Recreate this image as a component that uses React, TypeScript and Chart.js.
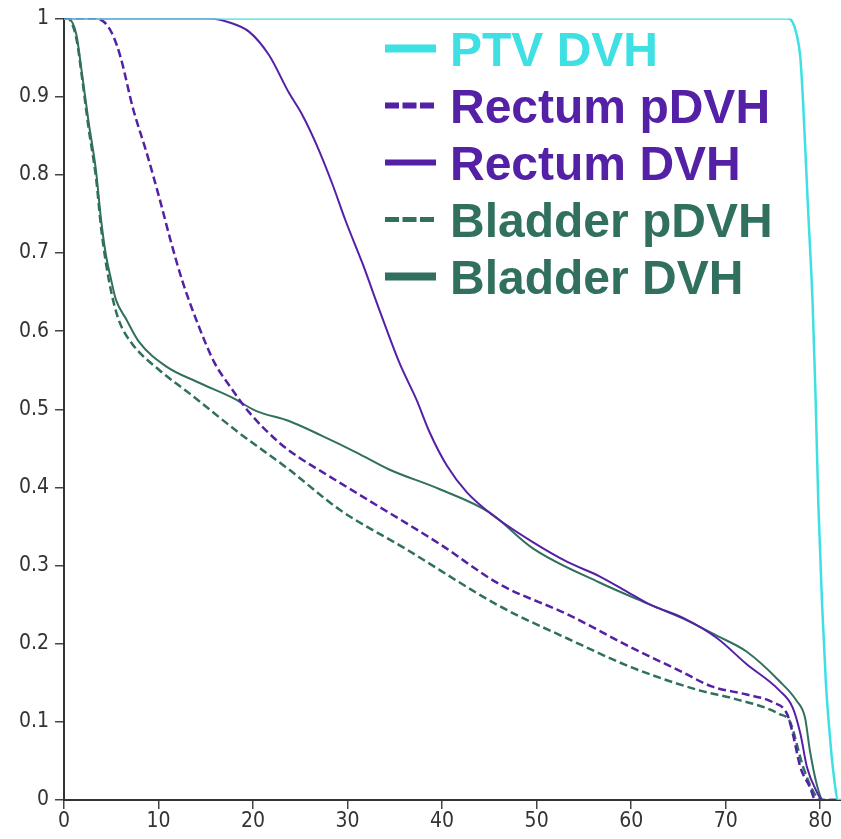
import React, { useEffect, useRef } from 'react';
import { Chart, registerables } from 'chart.js';

Chart.register(...registerables);

// Axis ticks
const xTickValues = [0, 10, 20, 30, 40, 50, 60, 70, 80];
const xTickLabels = ['0', '10', '20', '30', '40', '50', '60', '70', '80'];
const yTickValues = [0, 0.1, 0.2, 0.3, 0.4, 0.5, 0.6, 0.7, 0.8, 0.9, 1];
const yTickLabels = ['0', '0.1', '0.2', '0.3', '0.4', '0.5', '0.6', '0.7', '0.8', '0.9', '1'];

const seriesLabels = ['PTV DVH', 'Rectum pDVH', 'Rectum DVH', 'Bladder pDVH', 'Bladder DVH'];

// PTV DVH (dose in Gy, fractional volume)
const ptvDose = [0, 76.6, 77.1, 77.5, 77.9, 78.2, 78.7, 79.2, 79.5, 79.8, 80.2, 80.6, 81.0, 81.4, 81.9, 82.2];
const ptvVolume = [1, 1, 0.995, 0.98, 0.95, 0.89, 0.76, 0.635, 0.52, 0.38, 0.25, 0.15, 0.085, 0.035, 0, 0];

// Rectum probabilistic DVH
const rectumPdvhDose = [0, 3.0, 4.3, 5.2, 6.0, 7.3, 8.7, 10.1, 11.3, 12.5, 14.2, 15.9, 17.4, 19.6, 22.8, 24.9, 27.3, 32.3, 39.7, 46.1, 53.2, 60.2, 65.2, 68.6, 72.2, 75.0, 76.5, 77.1, 77.9, 78.9, 79.5, 82.2];
const rectumPdvhVolume = [1, 1, 0.995, 0.978, 0.95, 0.885, 0.83, 0.77, 0.715, 0.665, 0.608, 0.56, 0.532, 0.496, 0.457, 0.438, 0.42, 0.383, 0.328, 0.276, 0.238, 0.194, 0.165, 0.145, 0.135, 0.125, 0.11, 0.085, 0.042, 0.017, 0, 0];

// Rectum DVH
const rectumDvhDose = [0, 15.4, 17.5, 19.6, 21.7, 23.8, 25.2, 26.7, 28.4, 29.8, 31.6, 33.4, 35.5, 37.3, 38.7, 40.5, 42.6, 45.3, 49.6, 53.2, 56.7, 59.5, 62.0, 65.5, 69.1, 72.2, 75.7, 77.1, 77.9, 78.6, 79.7, 80.2, 82.2];
const rectumDvhVolume = [1, 1, 0.995, 0.983, 0.953, 0.905, 0.877, 0.839, 0.788, 0.741, 0.686, 0.626, 0.559, 0.512, 0.47, 0.428, 0.394, 0.365, 0.33, 0.305, 0.286, 0.267, 0.25, 0.233, 0.207, 0.174, 0.14, 0.118, 0.085, 0.042, 0.009, 0, 0];

// Bladder probabilistic DVH
const bladderPdvhDose = [0, 0.4, 1.3, 1.9, 2.6, 3.4, 3.9, 4.4, 5.0, 5.8, 7.2, 10.1, 13.2, 18.5, 23.8, 29.1, 36.2, 46.1, 53.2, 60.2, 67.3, 70.8, 75.7, 76.8, 78.2, 79.3, 80.0, 82.2];
const bladderPdvhVolume = [1, 1, 0.975, 0.925, 0.86, 0.795, 0.735, 0.69, 0.65, 0.614, 0.584, 0.55, 0.521, 0.47, 0.423, 0.372, 0.321, 0.248, 0.207, 0.169, 0.14, 0.13, 0.11, 0.1, 0.042, 0.01, 0, 0];

// Bladder DVH
const bladderDvhDose = [0, 0.4, 1.3, 1.9, 2.6, 3.4, 3.9, 4.4, 5.0, 5.5, 6.6, 7.9, 10.8, 14.3, 17.8, 20.3, 23.8, 27.3, 30.9, 34.4, 39.7, 45.0, 49.6, 56.7, 62.0, 65.5, 69.1, 72.2, 75.7, 77.5, 78.4, 78.9, 79.7, 80.3, 82.2];
const bladderDvhVolume = [1, 1, 0.98, 0.93, 0.868, 0.804, 0.745, 0.7, 0.665, 0.64, 0.615, 0.587, 0.555, 0.534, 0.515, 0.498, 0.485, 0.466, 0.445, 0.423, 0.398, 0.368, 0.322, 0.278, 0.25, 0.232, 0.21, 0.19, 0.152, 0.127, 0.105, 0.064, 0.017, 0, 0];

const PTV_COLOR = '#3EE0E4';
const RECTUM_COLOR = '#5421A6';
const BLADDER_COLOR = '#31705F';

const TICK_FONT = "'Liberation Sans Narrow', 'DejaVu Sans Condensed', 'DejaVu Sans', sans-serif";
const LEGEND_FONT = "bold 48px 'Liberation Sans', Arial, sans-serif";

// legend sample stroke widths, in dataset order
const legendStrokeWidths = [8, 6, 6, 5, 8];

const toPoints = (dose: number[], volume: number[]) =>
  dose.map((d, i) => ({ x: d, y: volume[i] }));

const dvhLegend = {
  id: 'dvhLegend',
  afterDraw(chart: any) {
    const { ctx, chartArea } = chart;
    const left = chartArea.left;
    ctx.save();
    ctx.font = LEGEND_FONT;
    ctx.textAlign = 'left';
    ctx.textBaseline = 'alphabetic';
    chart.data.datasets.forEach((ds: any, i: number) => {
      const baseline = chartArea.top + 47 + i * 57;
      const sampleY = baseline - 17;
      ctx.strokeStyle = ds.borderColor;
      ctx.lineWidth = legendStrokeWidths[i];
      ctx.lineCap = 'butt';
      ctx.setLineDash(ds.borderDash && ds.borderDash.length ? [14, 3.5] : []);
      ctx.beginPath();
      ctx.moveTo(left + 321, sampleY);
      ctx.lineTo(left + 372, sampleY);
      ctx.stroke();
      ctx.setLineDash([]);
      ctx.fillStyle = ds.borderColor;
      ctx.fillText(ds.label, left + 386, baseline);
    });
    ctx.restore();
  },
};

export default function App() {
  const canvasRef = useRef<HTMLCanvasElement | null>(null);

  useEffect(() => {
    const canvas = canvasRef.current;
    if (!canvas) return;

    const line = (label: string, color: string, points: any[], dashed: boolean, width: number) => ({
      label,
      data: points,
      borderColor: color,
      backgroundColor: color,
      borderWidth: width,
      borderDash: dashed ? [8, 4] : [],
      pointRadius: 0,
      fill: false,
      cubicInterpolationMode: 'monotone' as const,
    });

    // condensed face for the tick labels
    const tickFont = { family: TICK_FONT, size: 21, weight: 'condensed' as any };

    const chart = new Chart(canvas, {
      type: 'line',
      data: {
        datasets: [
          line(seriesLabels[0], PTV_COLOR, toPoints(ptvDose, ptvVolume), false, 2.5),
          line(seriesLabels[1], RECTUM_COLOR, toPoints(rectumPdvhDose, rectumPdvhVolume), true, 2.5),
          line(seriesLabels[2], RECTUM_COLOR, toPoints(rectumDvhDose, rectumDvhVolume), false, 2),
          line(seriesLabels[3], BLADDER_COLOR, toPoints(bladderPdvhDose, bladderPdvhVolume), true, 2.5),
          line(seriesLabels[4], BLADDER_COLOR, toPoints(bladderDvhDose, bladderDvhVolume), false, 2),
        ],
      },
      options: {
        responsive: false,
        animation: false,
        layout: { padding: { top: 13, right: 0, left: 0, bottom: 0 } },
        plugins: {
          legend: { display: false },
          tooltip: { enabled: false },
        },
        scales: {
          x: {
            type: 'linear',
            min: 0,
            max: 82.2,
            afterBuildTicks: (scale: any) => {
              scale.ticks = xTickValues.map((v) => ({ value: v }));
            },
            afterFit: (scale: any) => {
              scale.height = 39;
            },
            ticks: {
              autoSkip: false,
              maxRotation: 0,
              padding: 0,
              color: '#333',
              font: tickFont,
              callback: (value: any) => {
                const idx = xTickValues.indexOf(Number(value));
                return idx >= 0 ? xTickLabels[idx] : '';
              },
            },
            grid: {
              drawOnChartArea: false,
              drawTicks: true,
              tickLength: 9,
              color: '#444',
              lineWidth: 1.5,
            },
            border: { display: true, color: '#333', width: 2 },
          },
          y: {
            type: 'linear',
            min: 0,
            max: 1,
            afterBuildTicks: (scale: any) => {
              scale.ticks = yTickValues.map((v) => ({ value: v }));
            },
            afterFit: (scale: any) => {
              scale.width = 64;
            },
            ticks: {
              autoSkip: false,
              padding: 6,
              color: '#333',
              font: tickFont,
              callback: (value: any) => {
                const idx = yTickValues.findIndex((v) => Math.abs(v - Number(value)) < 1e-6);
                return idx >= 0 ? yTickLabels[idx] : '';
              },
            },
            grid: {
              drawOnChartArea: false,
              drawTicks: true,
              tickLength: 9,
              color: '#444',
              lineWidth: 1.5,
            },
            border: { display: true, color: '#333', width: 2 },
          },
        },
      },
      plugins: [dvhLegend],
    });

    return () => chart.destroy();
  }, []);

  return (
    <div style={{ position: 'fixed', left: 0, top: 0, width: 841, height: 839, background: '#fff' }}>
      <canvas ref={canvasRef} width={841} height={839} />
    </div>
  );
}
